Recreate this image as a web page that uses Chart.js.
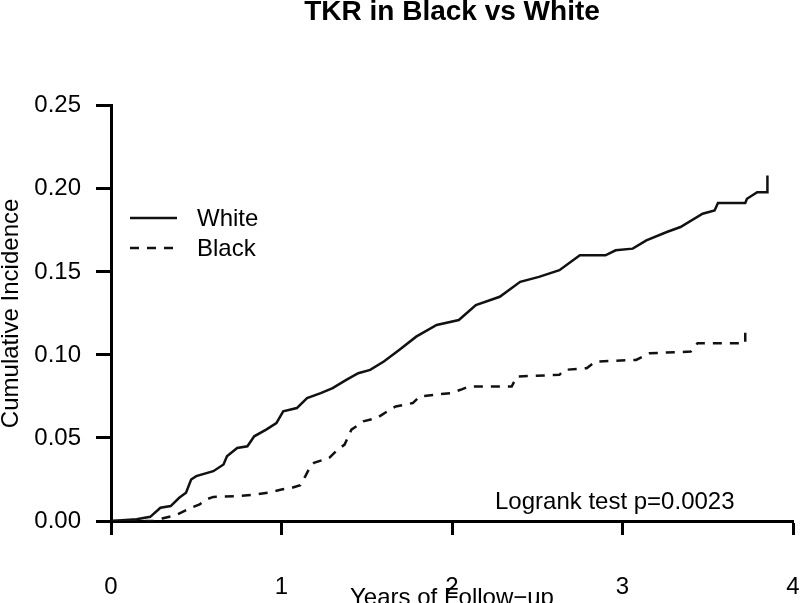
<!DOCTYPE html>
<html>
<head>
<meta charset="utf-8">
<title>TKR in Black vs White</title>
<script src="https://cdn.jsdelivr.net/npm/chart.js@4/dist/chart.umd.min.js"></script>
<style>
  body { margin: 0; background: #fff; }
  canvas { display: block; }
</style>
</head>
<body>
<canvas id="myChart" width="800" height="603"></canvas>
<script>
// 数据
const whiteYears = [0, 0.15, 0.23, 0.29, 0.35, 0.40, 0.44, 0.47, 0.50, 0.60, 0.66, 0.68, 0.74, 0.80, 0.84, 0.91, 0.97,
    1.01, 1.09, 1.15, 1.23, 1.30, 1.38, 1.45, 1.52, 1.60, 1.69, 1.79, 1.91, 2.04, 2.14, 2.28, 2.40, 2.51, 2.63,
    2.75, 2.90, 2.96, 3.06, 3.14, 3.26, 3.34, 3.47, 3.54, 3.56, 3.72, 3.73, 3.79, 3.85, 3.85];
const whiteInc = [0, 0.001, 0.0025, 0.008, 0.009, 0.014, 0.017, 0.025, 0.027, 0.030, 0.034, 0.039, 0.044, 0.045, 0.051, 0.055, 0.059,
    0.066, 0.068, 0.074, 0.077, 0.080, 0.085, 0.089, 0.091, 0.096, 0.103, 0.111, 0.118, 0.121, 0.130, 0.135, 0.144, 0.147, 0.151,
    0.160, 0.160, 0.163, 0.164, 0.169, 0.174, 0.177, 0.185, 0.187, 0.1915, 0.1915, 0.194, 0.198, 0.198, 0.208];

const blackYears = [0, 0.25, 0.30, 0.38, 0.42, 0.47, 0.52, 0.56, 0.60, 0.75, 0.85, 0.92, 1.00, 1.06, 1.11, 1.14, 1.17, 1.19,
    1.28, 1.33, 1.37, 1.41, 1.48, 1.56, 1.62, 1.67, 1.77, 1.81, 1.99, 2.05, 2.10, 2.35, 2.38, 2.63, 2.66, 2.79, 2.84,
    3.08, 3.16, 3.40, 3.44, 3.72, 3.72];
const blackInc = [0, 0, 0.0015, 0.0035, 0.0055, 0.008, 0.010, 0.013, 0.0145, 0.015, 0.016, 0.017, 0.019, 0.020, 0.0215, 0.027, 0.033, 0.035,
    0.038, 0.043, 0.046, 0.055, 0.060, 0.062, 0.066, 0.069, 0.071, 0.075, 0.077, 0.079, 0.081, 0.081, 0.087, 0.088, 0.091, 0.092, 0.096,
    0.097, 0.101, 0.102, 0.107, 0.107, 0.115];

const seriesLabels = ['White', 'Black'];
const xTicks = [0, 1, 2, 3, 4];
const yTicks = [0, 0.05, 0.10, 0.15, 0.20, 0.25];
const pValueText = 'Logrank test p=0.0023';

const FONT = 'Liberation Sans, Arial, Helvetica, sans-serif';

function toPoints(xs, ys) {
    return xs.map((x, i) => ({ x: x, y: ys[i] }));
}

// 图例和 logrank 文字
const annotatePlugin = {
    id: 'annotate',
    afterDraw(chart) {
        const ctx = chart.ctx;
        ctx.save();
        ctx.font = '24px ' + FONT;
        ctx.fillStyle = '#000';
        ctx.textBaseline = 'middle';
        ctx.textAlign = 'left';
        chart.data.datasets.forEach((ds, i) => {
            const y = 218 + i * 30;
            ctx.beginPath();
            ctx.lineWidth = ds.borderWidth;
            ctx.strokeStyle = ds.borderColor;
            ctx.setLineDash(ds.borderDash || []);
            ctx.moveTo(130, y);
            ctx.lineTo(177, y);
            ctx.stroke();
            ctx.setLineDash([]);
            ctx.fillText(ds.label, 197, y + 1);
        });
        ctx.fillText(pValueText, 495, 502);
        ctx.restore();
    }
};

const ctx = document.getElementById('myChart').getContext('2d');
const chart = new Chart(ctx, {
    type: 'line',
    data: {
        datasets: [{
            label: seriesLabels[0],
            data: toPoints(whiteYears, whiteInc),
            borderColor: '#111',
            borderWidth: 2.5,
            pointRadius: 0,
            fill: false
        }, {
            label: seriesLabels[1],
            data: toPoints(blackYears, blackInc),
            borderColor: '#111',
            borderWidth: 2.5,
            borderDash: [9, 8],
            pointRadius: 0,
            fill: false
        }]
    },
    options: {
        responsive: false,
        animation: false,
        layout: { padding: { left: 0, right: 7, top: 0, bottom: 0 } },
        plugins: {
            legend: { display: false },
            tooltip: { enabled: false },
            title: {
                display: true,
                fullSize: false,
                text: 'TKR in Black vs White',
                color: '#000',
                font: { family: FONT, size: 28, weight: 'bold', lineHeight: 0.85 },
                padding: { top: 0, bottom: 82 }
            }
        },
        scales: {
            x: {
                type: 'linear',
                min: 0,
                max: 4,
                afterBuildTicks: scale => { scale.ticks = xTicks.map(v => ({ value: v })); },
                afterFit: scale => {
                    scale.height = 82;
                    scale.paddingLeft = 0;
                    scale.paddingRight = 0;
                },
                border: { display: true, color: '#000', width: 3 },
                grid: { display: true, drawOnChartArea: false, drawTicks: true, tickLength: 14, tickWidth: 3, tickColor: '#000' },
                ticks: {
                    color: '#000',
                    padding: 38,
                    maxRotation: 0,
                    font: { family: FONT, size: 24 },
                    callback: v => String(v)
                },
                title: {
                    display: true,
                    text: 'Years of Follow−up',
                    color: '#000',
                    font: { family: FONT, size: 24, lineHeight: 0.35 },
                    padding: 0
                }
            },
            y: {
                type: 'linear',
                min: 0,
                max: 0.25,
                afterBuildTicks: scale => { scale.ticks = yTicks.map(v => ({ value: v })); },
                afterFit: scale => {
                    scale.width = 111;
                    scale.paddingTop = 0;
                    scale.paddingBottom = 0;
                },
                border: { display: true, color: '#000', width: 3 },
                grid: { display: true, drawOnChartArea: false, drawTicks: true, tickLength: 15, tickWidth: 3, tickColor: '#000' },
                ticks: {
                    color: '#000',
                    padding: 15,
                    font: { family: FONT, size: 24 },
                    callback: v => Number(v).toFixed(2)
                },
                title: {
                    display: true,
                    text: 'Cumulative Incidence',
                    color: '#000',
                    font: { family: FONT, size: 24, lineHeight: 0.95 },
                    padding: 0
                }
            }
        }
    },
    plugins: [annotatePlugin]
});
</script>
</body>
</html>
